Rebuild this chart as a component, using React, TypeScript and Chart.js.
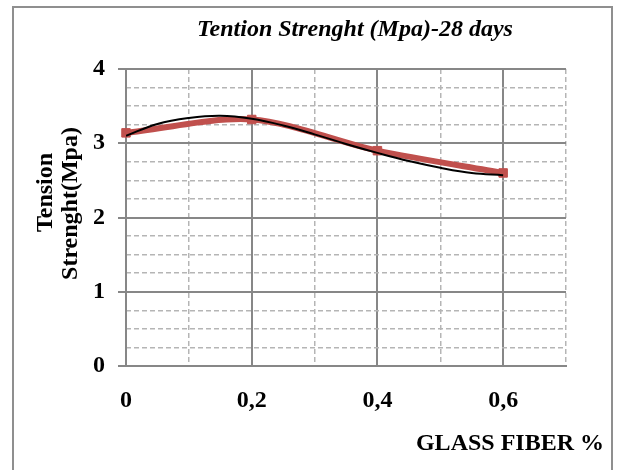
import React, { useEffect, useRef } from 'react';
import { Chart, registerables } from 'chart.js';

Chart.register(...registerables);

// ---- data ----
const glassFiber = [0, 0.2, 0.4, 0.6];
const tensionStrength = [3.14, 3.32, 2.9, 2.6];
const trendFiber = [0, 0.05, 0.1, 0.15, 0.2, 0.25, 0.3, 0.35, 0.4, 0.45, 0.5, 0.55, 0.6];
const trendStrength = [3.1, 3.26, 3.34, 3.37, 3.33, 3.24, 3.12, 2.99, 2.87, 2.76, 2.67, 2.6, 2.57];
const xTickLabels = ['0', '0,2', '0,4', '0,6'];
const yTickLabels = ['0', '1', '2', '3', '4'];
const chartTitle = 'Tention Strenght (Mpa)-28 days';
const yTitleLines = ['Tension', 'Strenght(Mpa)'];
const xTitle = 'GLASS FIBER %';

const FAMILY = '"Liberation Serif", "Times New Roman", serif';
const MAJOR = '#878787';
const MINOR = '#b5b5b5';

const isMultiple = (v: number, step: number) => Math.abs(v / step - Math.round(v / step)) < 1e-6;

const textPlugin = {
  id: 'customTexts',
  afterDraw(chart: any) {
    const { ctx, chartArea: a } = chart;
    const mid = (a.top + a.bottom) / 2;
    ctx.save();
    ctx.fillStyle = '#000';
    ctx.textBaseline = 'alphabetic';
    // title
    ctx.font = `italic bold 24px ${FAMILY}`;
    ctx.textAlign = 'center';
    ctx.fillText(chartTitle, (a.left + a.right) / 2 + 9, a.top - 33);
    // y title (rotated)
    ctx.font = `bold 24px ${FAMILY}`;
    const yPos = [
      { bx: a.left - 74, cy: mid - 25 },
      { bx: a.left - 49, cy: mid - 14 },
    ];
    yTitleLines.forEach((line, i) => {
      ctx.save();
      ctx.translate(yPos[i].bx, yPos[i].cy);
      ctx.rotate(-Math.PI / 2);
      ctx.textAlign = 'center';
      ctx.fillText(line, 0, 0);
      ctx.restore();
    });
    // x title
    ctx.textAlign = 'right';
    ctx.font = `bold 24px ${FAMILY}`;
    ctx.fillText(xTitle, a.right + 38, a.bottom + 84);
    ctx.restore();
  },
};

export default function App() {
  const ref = useRef<HTMLCanvasElement | null>(null);

  useEffect(() => {
    if (!ref.current) return;
    const font = { family: FAMILY, size: 24, weight: 'bold' as const };
    const chart = new Chart(ref.current, {
      type: 'line',
      data: {
        datasets: [
          {
            label: 'trend',
            data: trendFiber.map((x, i) => ({ x, y: trendStrength[i] })),
            borderColor: '#000000',
            borderWidth: 2,
            pointRadius: 0,
            tension: 0.4,
            fill: false,
            order: 0,
            xAxisID: 'x',
            yAxisID: 'y',
          },
          {
            label: 'Tension Strenght',
            data: glassFiber.map((x, i) => ({ x, y: tensionStrength[i] })),
            borderColor: '#C0504D',
            backgroundColor: '#C0504D',
            borderWidth: 6,
            pointStyle: 'rect',
            pointRadius: 6,
            pointBorderWidth: 1,
            pointBackgroundColor: '#C0504D',
            pointBorderColor: '#C0504D',
            tension: 0.3,
            fill: false,
            order: 1,
            clip: false as any,
            xAxisID: 'x',
            yAxisID: 'y',
          },
        ],
      },
      options: {
        responsive: false,
        animation: false,
        layout: { padding: { top: 69, right: 52, left: 0, bottom: 0 } },
        plugins: {
          legend: { display: false },
          tooltip: { enabled: false },
          title: { display: false },
        },
        scales: {
          x: {
            type: 'linear',
            position: 'bottom',
            min: 0,
            max: 0.7,
            afterFit: (s: any) => {
              s.height = 104;
            },
            ticks: {
              stepSize: 0.2,
              includeBounds: false,
              autoSkip: false,
              maxRotation: 0,
              padding: 20,
              color: '#000',
              font,
              callback: (v: any) => (isMultiple(Number(v), 0.2) ? xTickLabels[Math.round(Number(v) / 0.2)] ?? '' : ''),
            },
            grid: { color: MAJOR, lineWidth: 2, drawTicks: false },
            border: { color: MAJOR, width: 2 },
          },
          xMinor: {
            type: 'linear',
            position: 'bottom',
            min: 0,
            max: 0.7,
            afterFit: (s: any) => {
              s.height = 0;
            },
            ticks: { display: false, stepSize: 0.1 },
            grid: {
              drawTicks: false,
              lineWidth: 1.5,
              color: (c: any) => (isMultiple(c.tick.value, 0.2) ? 'rgba(0,0,0,0)' : MINOR),
            },
            border: { display: false, dash: [5, 3] },
          },
          y: {
            type: 'linear',
            position: 'left',
            min: 0,
            max: 4,
            afterFit: (s: any) => {
              s.width = 126;
            },
            ticks: {
              stepSize: 1,
              padding: 13,
              color: '#000',
              font,
              callback: (v: any) => yTickLabels[Math.round(Number(v))] ?? '',
            },
            grid: { color: MAJOR, lineWidth: 2, tickLength: 8, tickColor: MAJOR, drawTicks: true },
            border: { color: MAJOR, width: 2 },
          },
          yMinor: {
            type: 'linear',
            position: 'left',
            min: 0,
            max: 4,
            afterFit: (s: any) => {
              s.width = 0;
            },
            ticks: { display: false, stepSize: 0.25 },
            grid: {
              drawTicks: false,
              lineWidth: 1.5,
              color: (c: any) => (isMultiple(c.tick.value, 1) ? 'rgba(0,0,0,0)' : MINOR),
            },
            border: { display: false, dash: [5, 3] },
          },
        },
      } as any,
      plugins: [textPlugin],
    });
    return () => chart.destroy();
  }, []);

  return (
    <div style={{ position: 'absolute', left: 0, top: 0, width: 618, height: 470, background: '#fff', overflow: 'hidden' }}>
      <canvas ref={ref} width={618} height={470} style={{ display: 'block', width: 618, height: 470 }} />
      <div
        style={{
          position: 'absolute',
          left: 12,
          top: 6,
          width: 601,
          height: 500,
          boxSizing: 'border-box',
          border: '2px solid #8f8f8f',
          borderBottom: 'none',
          pointerEvents: 'none',
        }}
      />
    </div>
  );
}
